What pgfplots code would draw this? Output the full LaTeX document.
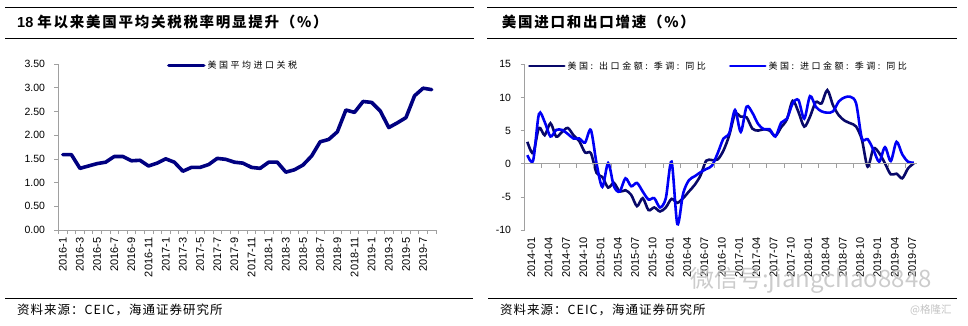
\documentclass[border=0pt]{standalone}
\usepackage{fontspec}
\setmainfont{Liberation Sans}
\newfontfamily\cjk{Noto Sans CJK SC}
\newfontfamily\cjks[LetterSpace=8]{Noto Sans CJK SC}
\newfontfamily\cjkt[LetterSpace=12]{Noto Sans CJK SC}
\newfontfamily\cjkl[LetterSpace=28]{Noto Sans CJK SC}
\usepackage{pgfplots}
\pgfplotsset{compat=1.18}
\definecolor{axisgray}{RGB}{160,160,160}
\definecolor{navyL}{RGB}{0,0,128}
\definecolor{navyE}{RGB}{8,8,105}
\definecolor{blueI}{RGB}{0,0,245}
\definecolor{wm}{RGB}{195,195,195}

\pgfplotstableread{
i v
0 1.59
1 1.59
2 1.30
3 1.35
4 1.40
5 1.43
6 1.55
7 1.55
8 1.46
9 1.47
10 1.35
11 1.41
12 1.50
13 1.43
14 1.24
15 1.32
16 1.32
17 1.38
18 1.51
19 1.49
20 1.43
21 1.41
22 1.32
23 1.30
24 1.43
25 1.43
26 1.22
27 1.27
28 1.37
29 1.56
30 1.86
31 1.91
32 2.07
33 2.53
34 2.48
35 2.71
36 2.69
37 2.51
38 2.16
39 2.26
40 2.37
41 2.83
42 2.99
43 2.96
}\tariff

\pgfplotstableread{
i ex im
0 3.3 1.3
1 1.6 0.5
2 5.4 7.5
3 4.3 6.3
4 6.1 4.1
5 4.1 5.1
6 4.8 5.1
7 5.4 4.5
8 4.3 3.8
9 3.4 3.8
10 1.7 3.2
11 1.6 5.1
12 -1.4 0.0
13 -2.0 -3.5
14 -3.6 0.1
15 -2.9 -3.4
16 -4.2 -4.2
17 -4.0 -2.2
18 -4.7 -3.4
19 -6.4 -2.9
20 -5.2 -4.2
21 -7.0 -5.4
22 -6.6 -5.2
23 -7.2 -6.6
24 -6.6 -5.2
25 -5.3 0.3
26 -5.9 -9.1
27 -5.2 -4.5
28 -4.2 -2.5
29 -3.2 -1.9
30 -1.8 -1.3
31 0.45 -0.8
32 0.55 -0.3
33 0.65 1.6
34 2.0 3.8
35 4.3 4.6
36 7.5 8.1
37 7.1 4.8
38 7.0 8.6
39 5.3 7.7
40 5.0 6.0
41 5.2 5.2
42 5.0 5.2
43 4.2 4.1
44 5.5 6.2
45 6.7 6.8
46 9.5 9.1
47 7.8 9.6
48 5.6 6.8
49 7.1 10.2
50 9.3 8.6
51 9.1 7.9
52 11.1 7.7
53 8.8 7.9
54 7.3 9.4
55 6.5 10.0
56 6.1 10.1
57 5.6 9.1
58 3.6 3.8
59 -0.45 3.7
60 2.3 2.1
61 1.6 0.3
62 0.05 2.5
63 -1.6 0.4
64 -1.5 3.3
65 -2.2 1.4
66 -0.7 0.3
67 0.05 0.15
}\trade

\begin{document}
\begin{tikzpicture}
\path[use as bounding box] (0pt,0pt) rectangle (968pt,325pt);

% header / footer rules
\draw[line width=0.9pt] (5pt,318pt) -- (474pt,318pt);
\draw[line width=0.9pt] (5pt,286.7pt) -- (474pt,286.7pt);
\draw[line width=0.9pt] (487pt,318pt) -- (957pt,318pt);
\draw[line width=0.9pt] (487pt,286.7pt) -- (957pt,286.7pt);
\draw[line width=0.9pt] (5pt,27pt) -- (473pt,27pt);
\draw[line width=0.9pt] (488pt,27pt) -- (957pt,27pt);

\node[anchor=west, inner sep=0pt] at (17pt,303pt) {\fontsize{14.5}{16}\selectfont\bfseries 18 {\cjkt\bfseries 年以来美国平均关税税率明显提升（\%）}};
\node[anchor=west, inner sep=0pt] at (501.7pt,303pt) {\fontsize{14.5}{16}\selectfont\cjkt\bfseries 美国进口和出口增速（\%）};

\node[anchor=west, inner sep=0pt] at (17pt,15pt) {\fontsize{12.5}{14}\selectfont\cjks 资料来源：CEIC，海通证券研究所};
\node[anchor=west, inner sep=0pt] at (500pt,15pt) {\fontsize{12.5}{14}\selectfont\cjks 资料来源：CEIC，海通证券研究所};

% ---------------- left chart ----------------
\begin{axis}[
  at={(58.5pt,95pt)}, anchor=south west,
  scale only axis, width=377.5pt, height=166pt,
  xmin=-0.5, xmax=43.5, ymin=0, ymax=3.5,
  axis x line*=bottom, axis y line*=left,
  axis line style={draw=axisgray, line width=0.8pt, -},
  xtick={0,2,...,42},
  xticklabels={2016-1,2016-3,2016-5,2016-7,2016-9,2016-11,2017-1,2017-3,2017-5,2017-7,2017-9,2017-11,2018-1,2018-3,2018-5,2018-7,2018-9,2018-11,2019-1,2019-3,2019-5,2019-7},
  minor xtick={-0.5,0.5,...,43.5},
  major x tick style={draw=none},
  minor x tick style={draw=axisgray, line width=0.7pt},
  ytick={0,0.5,...,3.5},
  yticklabels={0.00,0.50,1.00,1.50,2.00,2.50,3.00,3.50},
  major y tick style={draw=axisgray, line width=0.7pt},
  tick align=outside, major tick length=4pt, minor tick length=4pt,
  xticklabel style={rotate=90, anchor=east, font=\fontsize{11}{12}\selectfont},
  yticklabel style={font=\fontsize{10.5}{12}\selectfont, xshift=-6pt},
  legend style={at={(0.2874,0.99)}, anchor=west, draw=none, fill=none, inner sep=0pt, outer sep=0pt,
    nodes={inner sep=2pt}, font=\fontsize{9}{10}\selectfont\cjkl},
  legend image code/.code={\draw[#1, line cap=round] (0pt,0pt) -- (35pt,0pt);},
  clip=false,
]
\addplot[navyL, line width=3.6pt, line join=round, line cap=round] table[x=i, y=v] {\tariff};
\addlegendentry{美国平均进口关税}
\end{axis}

% ---------------- right chart ----------------
\begin{axis}[
  at={(524.5pt,95pt)}, anchor=south west,
  scale only axis, width=392.2pt, height=165.7pt,
  xmin=-0.5, xmax=67.5, ymin=-10, ymax=15,
  axis x line*=bottom, axis y line*=left,
  x axis line style={draw=none},
  y axis line style={draw=axisgray, line width=0.8pt, -},
  xtick={0,3,...,66},
  xticklabels={2014-01,2014-04,2014-07,2014-10,2015-01,2015-04,2015-07,2015-10,2016-01,2016-04,2016-07,2016-10,2017-01,2017-04,2017-07,2017-10,2018-01,2018-04,2018-07,2018-10,2019-01,2019-04,2019-07},
  major x tick style={draw=none},
  ytick={-10,-5,0,5,10,15},
  yticklabels={-10,-5,0,5,10,15},
  major y tick style={draw=axisgray, line width=0.7pt},
  tick align=outside, major tick length=4pt,
  xticklabel style={rotate=90, anchor=east, font=\fontsize{11}{12}\selectfont, yshift=-4pt},
  yticklabel style={font=\fontsize{10.5}{12}\selectfont, xshift=-6pt},
  legend columns=2,
  legend style={at={(0.009,0.99)}, anchor=west, draw=none, fill=none, inner sep=0pt, outer sep=0pt,
    nodes={inner sep=2pt}, font=\fontsize{9}{10}\selectfont\cjkl,
    /tikz/every odd column/.append style={column sep=0pt},
    /tikz/every even column/.append style={column sep=21pt}},
  legend image code/.code={\draw[#1, line cap=round] (0pt,0pt) -- (35pt,0pt);},
  clip=false,
]
\addplot[navyE, line width=2.6pt, smooth, tension=0.5] table[x=i, y=ex] {\trade};
\addlegendentry{美国: 出口金额: 季调: 同比}
\addplot[blueI, line width=2.6pt, smooth, tension=0.5] table[x=i, y=im] {\trade};
\addlegendentry{美国: 进口金额: 季调: 同比}
\end{axis}

% zero line with quarterly ticks
\begin{axis}[
  at={(524.5pt,95pt)}, anchor=south west,
  scale only axis, width=392.2pt, height=165.7pt,
  xmin=-0.5, xmax=67.5, ymin=-10, ymax=15,
  axis x line=middle, axis y line=none,
  x axis line style={draw=axisgray, line width=0.8pt, -},
  xtick={-0.5,2.5,...,65.5}, xticklabels={},
  tick align=outside, major tick length=4pt,
  major x tick style={draw=axisgray, line width=0.7pt},
  ytick=\empty,
]
\end{axis}

% watermark
\node[anchor=west, inner sep=0pt, text=wm, opacity=0.85] at (690pt,45pt) {\fontsize{24}{26}\selectfont\cjk 微信号:jiangchao8848};
\node[anchor=west, inner sep=0pt, text=wm] at (910pt,15pt) {\fontsize{10.5}{12}\selectfont\cjk @格隆汇};
\end{tikzpicture}
\end{document}
